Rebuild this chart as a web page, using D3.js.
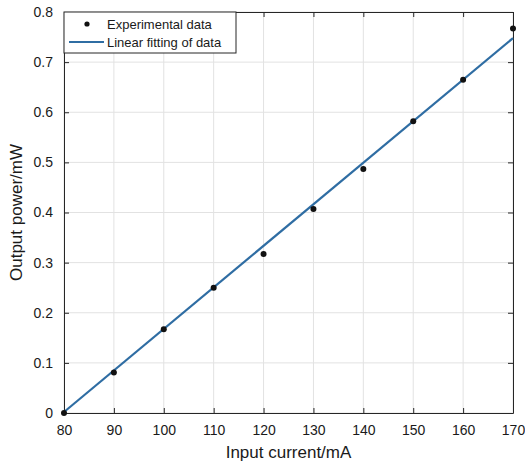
<!DOCTYPE html>
<html>
<head>
<meta charset="utf-8">
<script src="https://cdn.jsdelivr.net/npm/d3@7"></script>
<style>
  body { margin: 0; background: #fff; }
  text { font-family: "Liberation Sans", Arial, sans-serif; }
</style>
</head>
<body>
<div id="chart"></div>
<script>
// data
var current = [80, 90, 100, 110, 120, 130, 140, 150, 160, 170];
var power = [0.0, 0.081, 0.167, 0.25, 0.317, 0.407, 0.487, 0.582, 0.665, 0.767];
var fitCurrent = [80, 170];
var fitPower = [0.002, 0.748];
var xTicks = [80, 90, 100, 110, 120, 130, 140, 150, 160, 170];
var yTicks = [0, 0.1, 0.2, 0.3, 0.4, 0.5, 0.6, 0.7, 0.8];

var margin = { top: 12, right: 12, bottom: 53, left: 64 },
  width = 525 - margin.left - margin.right,
  height = 466 - margin.top - margin.bottom;

var svg = d3
  .select("#chart")
  .append("svg")
  .attr("width", 525)
  .attr("height", 466)
  .append("g")
  .attr("transform", "translate(" + margin.left + "," + margin.top + ")");

var x = d3.scaleLinear().domain([80, 170]).range([0, width]);
var y = d3.scaleLinear().domain([0, 0.8]).range([height, 0]);

// grid
svg.append("g")
  .selectAll("line")
  .data(xTicks)
  .enter()
  .append("line")
  .attr("x1", function (d) { return x(d); })
  .attr("x2", function (d) { return x(d); })
  .attr("y1", 0)
  .attr("y2", height)
  .attr("stroke", "#e2e2e2");
svg.append("g")
  .selectAll("line")
  .data(yTicks)
  .enter()
  .append("line")
  .attr("y1", function (d) { return y(d); })
  .attr("y2", function (d) { return y(d); })
  .attr("x1", 0)
  .attr("x2", width)
  .attr("stroke", "#e2e2e2");

// axes, ticks pointing inward
var fmt = function (d) { return d === 0 ? "0" : d3.format(".1f")(d); };
var xAxis = svg.append("g")
  .attr("transform", "translate(0," + height + ")")
  .call(d3.axisBottom(x).tickValues(xTicks).tickSizeInner(-5).tickSizeOuter(0).tickPadding(12));
var yAxis = svg.append("g")
  .call(d3.axisLeft(y).tickValues(yTicks).tickFormat(fmt).tickSizeInner(-5).tickSizeOuter(0).tickPadding(11));
var topAxis = svg.append("g")
  .call(d3.axisTop(x).tickValues(xTicks).tickSizeInner(-5).tickSizeOuter(0).tickFormat(""));
var rightAxis = svg.append("g")
  .attr("transform", "translate(" + width + ",0)")
  .call(d3.axisRight(y).tickValues(yTicks).tickSizeInner(-5).tickSizeOuter(0).tickFormat(""));

[xAxis, yAxis, topAxis, rightAxis].forEach(function (a) {
  a.selectAll("path").attr("stroke", "#262626");
  a.selectAll("line").attr("stroke", "#262626");
  a.selectAll("text").attr("fill", "#1a1a1a").style("font-size", "14px");
});

// fit line
svg.append("path")
  .datum(d3.zip(fitCurrent, fitPower))
  .attr("fill", "none")
  .attr("stroke", "#2f6da3")
  .attr("stroke-width", 2.2)
  .attr("d", d3.line()
    .x(function (d) { return x(d[0]); })
    .y(function (d) { return y(d[1]); }));

// data points
svg.append("g")
  .selectAll("circle")
  .data(d3.zip(current, power))
  .enter()
  .append("circle")
  .attr("cx", function (d) { return x(d[0]); })
  .attr("cy", function (d) { return y(d[1]); })
  .attr("r", 3)
  .attr("fill", "#111");

// legend
var legend = svg.append("g");
legend.append("rect")
  .attr("x", 0)
  .attr("y", 0)
  .attr("width", 172)
  .attr("height", 41)
  .attr("fill", "#fff")
  .attr("stroke", "#262626");
legend.append("circle")
  .attr("cx", 23)
  .attr("cy", 12)
  .attr("r", 2.6)
  .attr("fill", "#111");
legend.append("line")
  .attr("x1", 5)
  .attr("x2", 40)
  .attr("y1", 30)
  .attr("y2", 30)
  .attr("stroke", "#2f6da3")
  .attr("stroke-width", 2.2);
legend.append("text")
  .attr("x", 43)
  .attr("y", 17)
  .style("font-size", "13px")
  .attr("fill", "#1a1a1a")
  .text("Experimental data");
legend.append("text")
  .attr("x", 43)
  .attr("y", 35)
  .style("font-size", "13px")
  .attr("fill", "#1a1a1a")
  .text("Linear fitting of data");

// axis titles
svg.append("text")
  .attr("x", width / 2)
  .attr("y", height + 45)
  .attr("text-anchor", "middle")
  .style("font-size", "17px")
  .attr("fill", "#1a1a1a")
  .text("Input current/mA");
svg.append("text")
  .attr("transform", "translate(-42," + height / 2 + ")rotate(-90)")
  .attr("text-anchor", "middle")
  .style("font-size", "17px")
  .attr("fill", "#1a1a1a")
  .text("Output power/mW");
</script>
</body>
</html>
